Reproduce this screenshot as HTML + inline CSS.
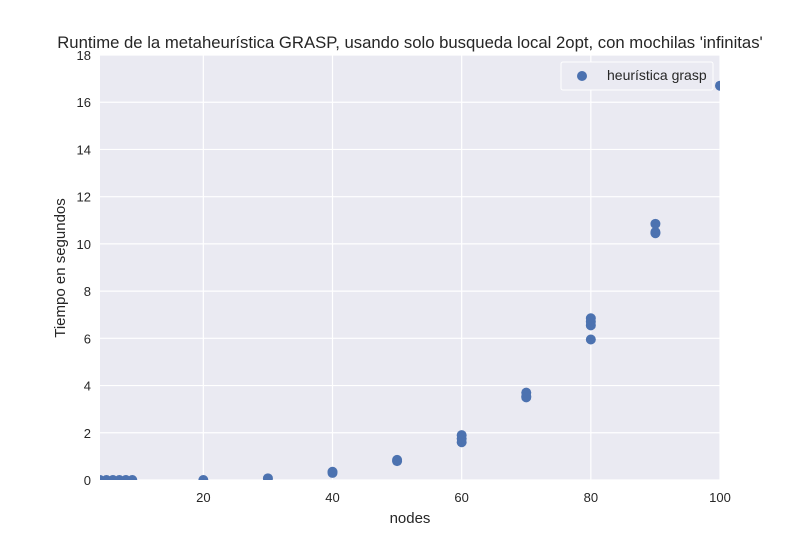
<!DOCTYPE html>
<html><head><meta charset="utf-8"><style>
body{margin:0;background:#fff;font-family:"Liberation Sans",sans-serif;}
text{font-family:"Liberation Sans",sans-serif;}
</style></head><body>
<svg width="800" height="550">
<defs><clipPath id="pc"><rect x="100" y="55" width="620" height="425"/></clipPath></defs>
<rect x="100" y="55" width="620" height="425" fill="#eaeaf2"/>
<g id="grid"></g>
<g id="pts" clip-path="url(#pc)"></g>
<g id="ticks"></g>
<text x="410" y="48" text-anchor="middle" font-size="16.7" fill="#262626">Runtime de la metaheurística GRASP, usando solo busqueda local 2opt, con mochilas 'infinitas'</text>
<text x="410" y="523" text-anchor="middle" font-size="15" fill="#262626">nodes</text>
<text transform="translate(65,268) rotate(-90)" text-anchor="middle" font-size="15" fill="#262626">Tiempo en segundos</text>
<g>
<rect x="561" y="62" width="152" height="28" fill="#eaeaf2" stroke="#fff" stroke-width="1" rx="2"/>
<circle cx="582" cy="76" r="5" fill="#4c72b0"/>
<text x="607" y="80" font-size="14" fill="#262626">heurística grasp</text>
</g>
</svg>
<script>
const xs=[4,5,6,7,8,9,20,30,40,40,50,50,60,60,60,70,70,70,80,80,80,80,90,90,90,100];
const ys=[0,0,0,0,0,0,0,0.07,0.3,0.35,0.8,0.85,1.6,1.75,1.9,3.5,3.55,3.7,5.95,6.55,6.7,6.85,10.45,10.5,10.85,16.7];
const xTicks=[20,40,60,80,100];
const yTicks=[0,2,4,6,8,10,12,14,16,18];
const X=v=>100+(v-4)*620/96, Y=v=>480-v*425/18;
const ns="http://www.w3.org/2000/svg";
const g=document.getElementById('grid'),t=document.getElementById('ticks'),p=document.getElementById('pts');
function mk(tag,at,par){const e=document.createElementNS(ns,tag);for(const k in at)e.setAttribute(k,at[k]);par.appendChild(e);return e;}
xTicks.forEach(v=>{
const l=mk('line',{x1:X(v),x2:X(v),y1:55,y2:480,stroke:'#fff','stroke-width':1.2},g);


const s=mk('text',{x:X(v),y:502,'text-anchor':'middle','font-size':13,fill:'#262626'},t);s.textContent=v;


});
yTicks.forEach(v=>{
const l=mk('line',{x1:100,x2:720,y1:Y(v),y2:Y(v),stroke:'#fff','stroke-width':1.2},g);


const s=mk('text',{x:91,y:Y(v)+5,'text-anchor':'end','font-size':13,fill:'#262626'},t);s.textContent=v;


});
xs.forEach((x,i)=>{
const c=mk('circle',{cx:X(x),cy:Y(ys[i]),r:5,fill:'#4c72b0'},p);


});
</script>
</body></html>
